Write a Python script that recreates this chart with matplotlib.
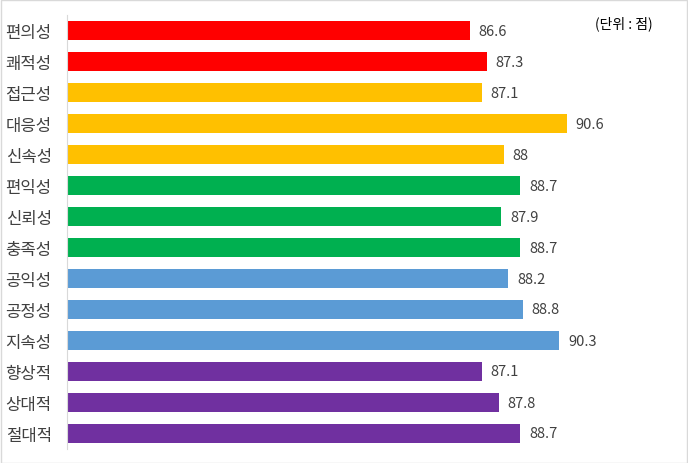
import matplotlib.pyplot as plt
from matplotlib.patches import Rectangle

plt.rcParams['font.family'] = ['Noto Sans CJK KR', 'DejaVu Sans']

categories = ['편의성', '쾌적성', '접근성', '대응성', '신속성', '편익성', '신뢰성',
              '충족성', '공익성', '공정성', '지속성', '향상적', '상대적', '절대적']
values = [86.6, 87.3, 87.1, 90.6, 88, 88.7, 87.9, 88.7, 88.2, 88.8, 90.3, 87.1, 87.8, 88.7]
labels = ['86.6', '87.3', '87.1', '90.6', '88', '88.7', '87.9', '88.7', '88.2', '88.8',
          '90.3', '87.1', '87.8', '88.7']
groups = [0, 0, 1, 1, 1, 2, 2, 2, 3, 3, 3, 4, 4, 4]
group_colors = ['#FF0000', '#FFC000', '#00B050', '#5B9BD5', '#7030A0']

fig = plt.figure(figsize=(6.88, 4.64), dpi=100)
ax = fig.add_axes([67 / 688, 14 / 464, (649 - 67) / 688, 434 / 464])

y = list(range(len(categories)))
colors = [group_colors[g] for g in groups]
xmin = 70
ax.barh(y, [v - xmin for v in values], left=xmin, height=0.645, color=colors)

# 값 레이블
for yi, v, lab in zip(y, values, labels):
    ax.text(v + 0.37, yi, lab, va='center', ha='left', fontsize=10.5, color='#404040')

ax.set_xlim(xmin, 94)
ax.set_ylim(len(categories) - 0.5, -0.5)
ax.set_yticks(y)
ax.set_yticklabels(categories, fontsize=12, color='#404040')
ax.tick_params(axis='y', length=0, pad=11)
ax.set_xticks([])
for s in ['top', 'right', 'bottom']:
    ax.spines[s].set_visible(False)
ax.spines['left'].set_color('#d9d9d9')

fig.text(624 / 688, 1 - 24 / 464, '(단위 : 점)', ha='center', va='center',
         fontsize=10, color='#000000')

# 차트 테두리
fig.patches.append(Rectangle((0.001, 0.001), 0.997, 0.997, transform=fig.transFigure,
                             fill=False, edgecolor='#d9d9d9', linewidth=1))

fig.savefig('out.png', dpi=100)
